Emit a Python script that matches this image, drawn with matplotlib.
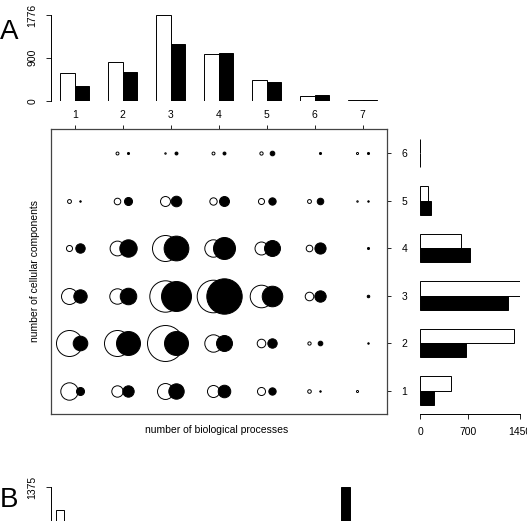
import numpy as np
import matplotlib.pyplot as plt

plt.rcParams['font.family'] = ['Liberation Sans', 'DejaVu Sans']

# ---- data ----
bp_levels = [1, 2, 3, 4, 5, 6, 7]      # number of biological processes
cc_levels = [1, 2, 3, 4, 5, 6]         # number of cellular components

# bubble counts, rows = cellular components 1..6, columns = biological processes 1..7
white_counts = np.array([
    [140, 60, 118, 67, 30, 6, 2],
    [313, 313, 599, 140, 34, 5, 0],
    [118, 110, 456, 492, 236, 34, 0],
    [17, 101, 313, 140, 78, 20, 0],
    [7, 20, 46, 25, 17, 7, 1],
    [0, 4, 1, 4, 5, 0, 2],
])
black_counts = np.array([
    [30, 60, 110, 73, 25, 1, 0],
    [99, 266, 266, 118, 41, 10, 1],
    [83, 127, 416, 580, 196, 60, 3],
    [41, 140, 284, 224, 118, 58, 2],
    [1, 30, 52, 46, 25, 20, 1],
    [0, 2, 4, 4, 10, 2, 2],
])

# marginal histograms
top_white = [580, 808, 1776, 967, 429, 97, 12]
top_black = [305, 601, 1188, 988, 387, 131, 12]
top_ticks = [0, 900, 1776]

right_white = [454, 1358, 1453, 590, 116, 3]
right_black = [208, 672, 1281, 730, 164, 3]
right_ticks = [0, 700, 1450]

# panel B (only its top edge is visible)
b_pos = [1.1, 35.1]
b_white = [1007, 0]
b_black = [0, 1375]
b_max = 1375

W, H = 527, 521
fig = plt.figure(figsize=(W / 100, H / 100), dpi=100)


def rect(x0, y0, x1, y1):
    # pixel box (top-left origin) -> figure fraction
    return [x0 / W, 1 - y1 / H, (x1 - x0) / W, (y1 - y0) / H]


fs = 7.5
lw = 0.7

# ------------------------------ bubble panel ------------------------------
ax = fig.add_axes(rect(50.7, 129.3, 386.7, 414.3))
ax.set_xlim(0.5, 7.5)
ax.set_ylim(0.5, 6.5)
off = 0.11
scale = 1.12
for i, cc in enumerate(cc_levels):
    for j, bp in enumerate(bp_levels):
        if white_counts[i, j] > 0:
            ax.scatter(bp - off, cc, s=white_counts[i, j] * scale, facecolor='white',
                       edgecolor='black', linewidth=lw, zorder=2)
        if black_counts[i, j] > 0:
            ax.scatter(bp + off, cc, s=black_counts[i, j] * scale, facecolor='black',
                       edgecolor='black', linewidth=lw, zorder=3)
ax.xaxis.tick_top()
ax.yaxis.tick_right()
ax.set_xticks(bp_levels)
ax.set_yticks(cc_levels)
ax.tick_params(axis='x', length=3, width=0.6, pad=4, labelsize=fs)
ax.tick_params(axis='y', length=3, width=0.6, pad=7.5, labelsize=fs)
for s in ax.spines.values():
    s.set_linewidth(0.9)
    s.set_color('#444444')

fig.text(216.5 / W, 1 - 430 / H, 'number of biological processes', ha='center', va='center', fontsize=fs)
fig.text(35 / W, 1 - 271 / H, 'number of cellular components', ha='center', va='center',
         rotation=90, fontsize=fs)

# ------------------------------ top histogram ------------------------------
axt = fig.add_axes(rect(50.7, 15.3, 386.7, 101))
bw = 0.3
x = np.array(bp_levels)
axt.bar(x - bw / 2, top_white, width=bw, color='white', edgecolor='black', linewidth=lw)
axt.bar(x + bw / 2, top_black, width=bw, color='black', edgecolor='black', linewidth=lw)
axt.set_xlim(0.5, 7.5)
axt.set_ylim(0, top_ticks[-1])
axt.set_yticks(top_ticks)
axt.set_yticklabels([str(t) for t in top_ticks], rotation=90, va='center')
axt.set_xticks([])
axt.tick_params(axis='y', length=3.5, width=0.6, pad=6, labelsize=fs)
for k in ['top', 'right', 'bottom']:
    axt.spines[k].set_visible(False)
axt.spines['left'].set_linewidth(0.7)
axt.patch.set_alpha(0)

# ------------------------------ right histogram ------------------------------
axr = fig.add_axes(rect(420, 129.3, 520, 414.3))
y = np.array(cc_levels)
axr.barh(y + bw / 2, right_white, height=bw, color='white', edgecolor='black', linewidth=lw)
axr.barh(y - bw / 2, right_black, height=bw, color='black', edgecolor='black', linewidth=lw)
axr.set_ylim(0.5, 6.5)
axr.set_xlim(0, right_ticks[-1])
axr.set_xticks(right_ticks)
axr.set_yticks([])
axr.tick_params(axis='x', length=3.5, width=0.6, pad=6, labelsize=fs)
for k in ['top', 'right', 'left']:
    axr.spines[k].set_visible(False)
axr.spines['bottom'].set_linewidth(0.7)
axr.patch.set_alpha(0)

# ------------------------------ panel B (cut off) ------------------------------
axb = fig.add_axes(rect(50.7, 487.3, 386.7, 573))
axb.bar(b_pos, b_white, width=1.0, color='white', edgecolor='black', linewidth=lw)
axb.bar(b_pos, b_black, width=1.0, color='black', edgecolor='black', linewidth=lw)
axb.set_xlim(0, 40)
axb.set_ylim(0, b_max)
axb.set_yticks([b_max])
axb.set_yticklabels([str(b_max)], rotation=90, va='center')
axb.set_xticks([])
axb.tick_params(axis='y', length=3.5, width=0.6, pad=6, labelsize=fs)
for k in ['top', 'right', 'bottom']:
    axb.spines[k].set_visible(False)
axb.spines['left'].set_linewidth(0.7)
axb.patch.set_alpha(0)

fig.text(0, 1 - 32 / H, 'A', ha='left', va='center', fontsize=20)
fig.text(0, 1 - 500 / H, 'B', ha='left', va='center', fontsize=20)

fig.savefig('out.png', dpi=100)
